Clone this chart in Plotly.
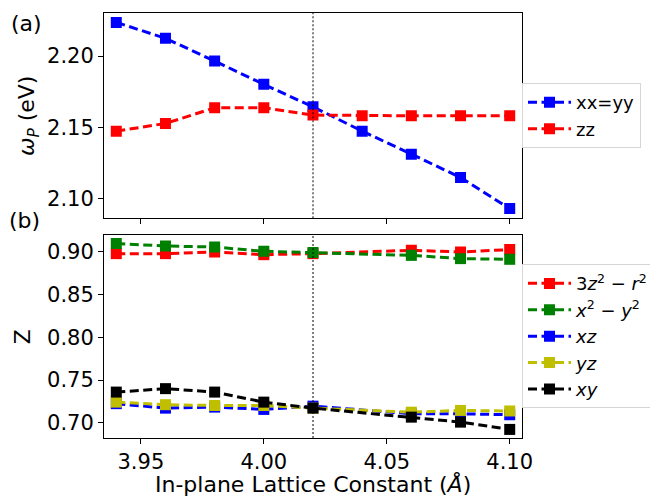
import plotly.graph_objects as go
from plotly.subplots import make_subplots

# x positions (lattice constant, Å)
x_top = [3.94, 3.96, 3.98, 4.00, 4.02, 4.04, 4.06, 4.08, 4.10]
x_bot = [3.94, 3.96, 3.98, 4.00, 4.02, 4.06, 4.08, 4.10]

# (a) plasma frequency (eV)
wp_xx = [2.2237, 2.2125, 2.1965, 2.1801, 2.1643, 2.1472, 2.1310, 2.1146, 2.0927]
wp_zz = [2.1472, 2.1526, 2.1636, 2.1636, 2.1585, 2.1580, 2.1580, 2.1580, 2.1580]

# (b) quasiparticle weight Z per orbital
z_3z2 = [0.8973, 0.8973, 0.8992, 0.8961, 0.8973, 0.9012, 0.8992, 0.9020]
z_x2y2 = [0.9090, 0.9062, 0.9050, 0.9000, 0.8985, 0.8953, 0.8915, 0.8907]
z_xz = [0.7225, 0.7173, 0.7185, 0.7158, 0.7196, 0.7107, 0.7107, 0.7096]
z_yz = [0.7243, 0.7213, 0.7204, 0.7204, 0.7173, 0.7126, 0.7146, 0.7140]
z_xy = [0.7360, 0.7400, 0.7360, 0.7243, 0.7173, 0.7068, 0.7010, 0.6925]

x_ticks = [3.95, 4.00, 4.05, 4.10]
x_ticktext = ["3.95", "4.00", "4.05", "4.10"]
top_ticks = [2.10, 2.15, 2.20]
top_ticktext = ["2.10", "2.15", "2.20"]
bot_ticks = [0.70, 0.75, 0.80, 0.85, 0.90]
bot_ticktext = ["0.70", "0.75", "0.80", "0.85", "0.90"]
x_ref = 4.02

FONT = "DejaVu Sans"
DASH = "9px,4.5px"

fig = make_subplots(rows=2, cols=1, shared_xaxes=True)

def add(x, y, name, color, row, legend):
    fig.add_trace(go.Scatter(
        x=x, y=y, name=name, mode="lines+markers",
        line=dict(color=color, width=3, dash=DASH),
        marker=dict(symbol="square", size=11, color=color),
        legend=legend), row=row, col=1)

add(x_top, wp_xx, "xx=yy", "#0000ff", 1, "legend")
add(x_top, wp_zz, "zz", "#ff0000", 1, "legend")
add(x_bot, z_3z2, "3<i>z</i><sup>2</sup> − <i>r</i><sup>2</sup>", "#ff0000", 2, "legend2")
add(x_bot, z_x2y2, "<i>x</i><sup>2</sup> − <i>y</i><sup>2</sup>", "#008000", 2, "legend2")
add(x_bot, z_xz, "<i>xz</i>", "#0000ff", 2, "legend2")
add(x_bot, z_yz, "<i>yz</i>", "#bfbf00", 2, "legend2")
add(x_bot, z_xy, "<i>xy</i>", "#000000", 2, "legend2")

axis_common = dict(showline=True, linecolor="black", linewidth=1, mirror=True,
                   ticks="outside", ticklen=5, tickcolor="black", showgrid=False,
                   zeroline=False, tickfont=dict(family=FONT, size=21, color="black"))

fig.update_xaxes(range=[3.935, 4.105], tickvals=x_ticks, ticktext=x_ticktext, **axis_common)
fig.update_xaxes(showticklabels=False, row=1, col=1)
fig.update_yaxes(**axis_common)
fig.update_yaxes(range=[2.0859, 2.2303], tickvals=top_ticks, ticktext=top_ticktext,
                 row=1, col=1)
fig.update_yaxes(range=[0.6825, 0.9187], tickvals=bot_ticks, ticktext=bot_ticktext,
                 row=2, col=1)

fig.update_layout(
    xaxis=dict(domain=[0, 1]), yaxis=dict(domain=[0.517, 1.0]),
    xaxis2=dict(domain=[0, 1]), yaxis2=dict(domain=[0.0, 0.477]),
)

# vertical dotted reference line
for xr, yr in (("x", "y domain"), ("x2", "y2 domain")):
    fig.add_shape(type="line", xref=xr, yref=yr, x0=x_ref, x1=x_ref, y0=0, y1=1,
                  line=dict(color="black", width=1, dash="2px,2px"))

ann_font = dict(family=FONT, size=22, color="black")
fig.add_annotation(text="<i>ω</i><sub><i>P</i></sub> (eV)", xref="paper", yref="paper",
                   x=-0.179, y=0.758, xanchor="center", yanchor="middle",
                   textangle=-90, showarrow=False, font=ann_font)
fig.add_annotation(text="Z", xref="paper", yref="paper",
                   x=-0.194, y=0.239, xanchor="center", yanchor="middle",
                   textangle=-90, showarrow=False, font=ann_font)
fig.add_annotation(text="(a)", xref="paper", yref="paper", x=-0.185, y=1.0,
                   xanchor="center", yanchor="middle", showarrow=False,
                   font=ann_font, yshift=-10)
fig.add_annotation(text="(b)", xref="paper", yref="paper", x=-0.190, y=0.512,
                   xanchor="center", yanchor="middle", showarrow=False,
                   font=ann_font)
fig.add_annotation(text="In-plane Lattice Constant (<i>Å</i>)", xref="paper", yref="paper",
                   x=0.5, y=-0.108, xanchor="center", yanchor="middle", showarrow=False,
                   font=ann_font)

leg_common = dict(bgcolor="white", bordercolor="#d6d6d6", borderwidth=1,
                  font=dict(family=FONT, size=18, color="black"),
                  xanchor="left", yanchor="top", tracegroupgap=0, itemwidth=43)
fig.update_layout(
    legend=dict(x=1.0, y=0.835, **leg_common),
    legend2=dict(x=1.0, y=0.409, **leg_common),
    width=650, height=497,
    margin=dict(l=104, r=128, t=13, b=59, autoexpand=False),
    paper_bgcolor="white", plot_bgcolor="white",
    font=dict(family=FONT, color="black"),
)

fig.write_html("out.html", config={"displayModeBar": False},
               post_script="document.body.style.margin='0';document.body.style.overflow='hidden';")
